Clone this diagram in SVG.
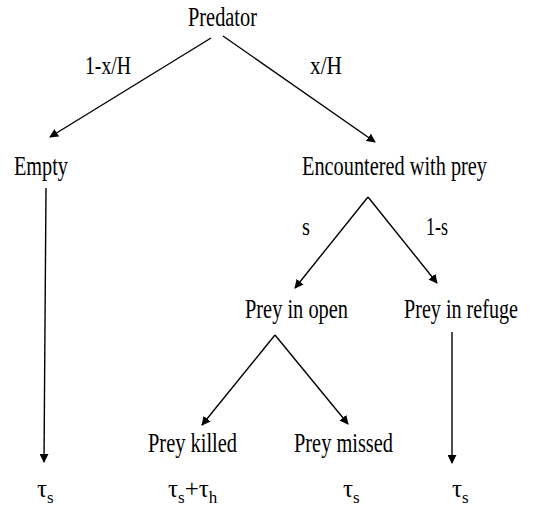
<svg xmlns="http://www.w3.org/2000/svg" width="557" height="510" viewBox="0 0 557 510">
<defs>
<marker id="ah" viewBox="0 0 10 10" refX="9" refY="5" markerWidth="9" markerHeight="9" markerUnits="userSpaceOnUse" orient="auto">
<path d="M0,0 L10,5 L0,10 z" fill="#000"/>
</marker>
</defs>
<style>
.c{stroke:#000;stroke-width:1.4;marker-end:url(#ah)}
</style>
<rect width="557" height="510" fill="#fff"/>
<g id="connectors">
<line class="c" x1="211" y1="38" x2="50" y2="137"/>
<line class="c" x1="223" y1="36" x2="375" y2="142"/>
<line class="c" x1="46" y1="188" x2="44" y2="462"/>
<line class="c" x1="368" y1="197" x2="295" y2="288"/>
<line class="c" x1="368" y1="197" x2="437" y2="283"/>
<line class="c" x1="275" y1="335" x2="202" y2="425"/>
<line class="c" x1="275" y1="335" x2="348" y2="424"/>
<line class="c" x1="452" y1="332" x2="452" y2="463"/>
</g>
<g id="edge-labels">
<text font-family="Liberation Serif" font-size="26" x="85" y="74" textLength="46" lengthAdjust="spacingAndGlyphs">1-x/H</text>
<text font-family="Liberation Serif" font-size="26" x="310" y="74" textLength="32" lengthAdjust="spacingAndGlyphs">x/H</text>
<text font-family="Liberation Serif" font-size="26" x="302" y="235" textLength="8" lengthAdjust="spacingAndGlyphs">s</text>
<text font-family="Liberation Serif" font-size="26" x="426" y="235" textLength="22" lengthAdjust="spacingAndGlyphs">1-s</text>
</g>
<g id="predator"><text font-family="Liberation Serif" font-size="27" x="188" y="26" textLength="69" lengthAdjust="spacingAndGlyphs">Predator</text></g>
<g id="empty"><text font-family="Liberation Serif" font-size="27" x="14" y="175" textLength="54" lengthAdjust="spacingAndGlyphs">Empty</text></g>
<g id="encountered"><text font-family="Liberation Serif" font-size="27" x="302" y="175" textLength="185" lengthAdjust="spacingAndGlyphs">Encountered with prey</text></g>
<g id="prey-open"><text font-family="Liberation Serif" font-size="27" x="245" y="318" textLength="103" lengthAdjust="spacingAndGlyphs">Prey in open</text></g>
<g id="prey-refuge"><text font-family="Liberation Serif" font-size="27" x="404" y="318" textLength="114" lengthAdjust="spacingAndGlyphs">Prey in refuge</text></g>
<g id="prey-killed"><text font-family="Liberation Serif" font-size="27" x="148" y="452" textLength="89" lengthAdjust="spacingAndGlyphs">Prey killed</text></g>
<g id="prey-missed"><text font-family="Liberation Serif" font-size="27" x="294" y="452" textLength="99" lengthAdjust="spacingAndGlyphs">Prey missed</text></g>
<g id="time-empty"><text font-family="Liberation Serif" font-size="25" x="37" y="497">&#964;<tspan font-size="17" dy="6">s</tspan></text></g>
<g id="time-killed"><text font-family="Liberation Serif" font-size="25" x="168" y="497">&#964;<tspan font-size="17" dy="6">s</tspan><tspan dy="-6">+&#964;</tspan><tspan font-size="17" dy="6">h</tspan></text></g>
<g id="time-missed"><text font-family="Liberation Serif" font-size="25" x="343" y="497">&#964;<tspan font-size="17" dy="6">s</tspan></text></g>
<g id="time-refuge"><text font-family="Liberation Serif" font-size="25" x="452" y="497">&#964;<tspan font-size="17" dy="6">s</tspan></text></g>
</svg>
